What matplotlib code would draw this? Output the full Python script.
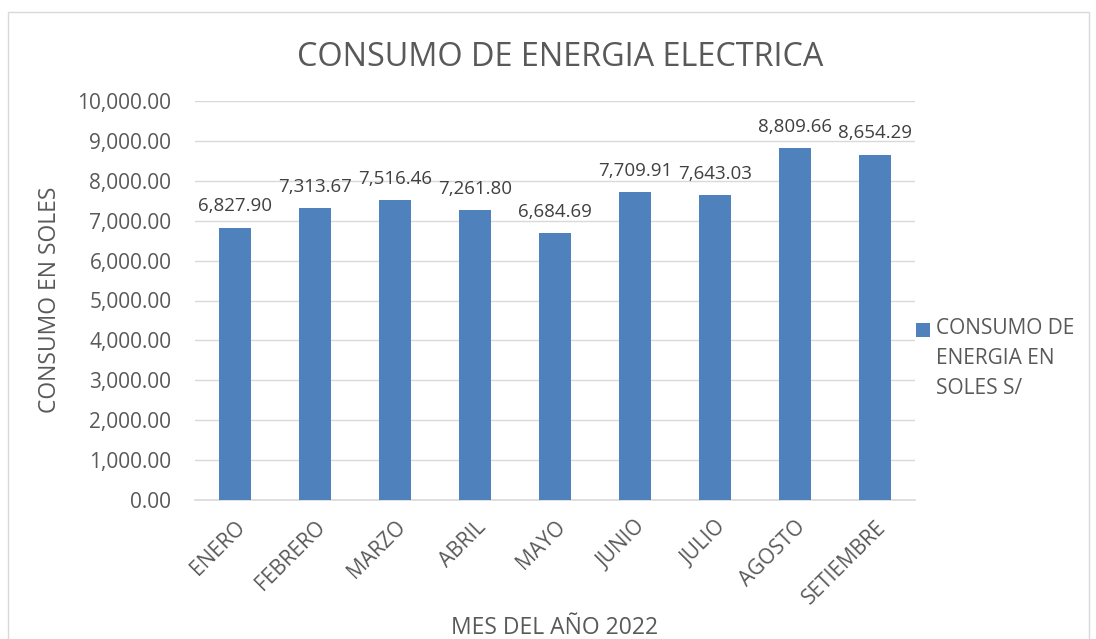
import matplotlib
matplotlib.use("Agg")
import matplotlib.pyplot as plt
from matplotlib.patches import Rectangle
from matplotlib.ticker import FuncFormatter, MultipleLocator

months = ["ENERO", "FEBRERO", "MARZO", "ABRIL", "MAYO", "JUNIO", "JULIO", "AGOSTO", "SETIEMBRE"]
values = [6827.90, 7313.67, 7516.46, 7261.80, 6684.69, 7709.91, 7643.03, 8809.66, 8654.29]
series_name = "CONSUMO DE\nENERGIA EN\nSOLES S/"
title = "CONSUMO DE ENERGIA ELECTRICA"
xlabel = "MES DEL AÑO 2022"
ylabel = "CONSUMO EN SOLES"

plt.rcParams['font.family'] = ['Open Sans', 'DejaVu Sans']
TXT = '#595959'
BAR = '#4F81BD'
GRID = '#D9D9D9'

fig = plt.figure(figsize=(10.96, 6.39), dpi=100)
fig.patches.append(Rectangle((8/1096, -0.1), (1089-8)/1096, 1.1 - 12/639, transform=fig.transFigure,
                             fill=False, edgecolor='#D9D9D9', linewidth=1))

ax = fig.add_axes([195/1096, 1 - 500/639, 720/1096, 399/639])
x = list(range(len(months)))
bars = ax.bar(x, values, width=0.4, color=BAR, zorder=3, label=series_name)
ax.set_xlim(-0.5, len(months) - 0.5)
ax.set_ylim(0, 10000)
ax.yaxis.set_major_locator(MultipleLocator(1000))
ax.yaxis.set_major_formatter(FuncFormatter(lambda v, p: f"{v:,.2f}"))
ax.grid(axis='y', color=GRID, linewidth=1, zorder=0)
for s in ['top', 'right', 'left']:
    ax.spines[s].set_visible(False)
ax.spines['bottom'].set_color(GRID)
ax.spines['bottom'].set_linewidth(1.2)
ax.tick_params(axis='both', length=0, colors=TXT, labelsize=15)
ax.tick_params(axis='y', pad=17)
ax.set_xticks(x)
ax.set_xticklabels(months, rotation=45, ha='right', rotation_mode='anchor')
ax.tick_params(axis='x', pad=12)

for xi, v in zip(x, values):
    ax.annotate(f"{v:,.2f}", (xi, v), xytext=(0, 9), textcoords='offset points',
                ha='center', va='bottom', fontsize=13.5, color='#404040')

fig.text(560/1096, 1 - 57/639, title, ha='center', va='center', fontsize=23.3, color=TXT)
fig.text(555/1096, 1 - 628/639, xlabel, ha='center', va='center', fontsize=16.5, color=TXT)
fig.text(50/1096, 1 - 300/639, ylabel, ha='center', va='center', rotation=90, fontsize=16.5, color=TXT)

# legend (manual so the marker aligns with the first line)
fig.patches.append(Rectangle((916/1096, 1 - 337/639), 14/1096, 14/639, transform=fig.transFigure,
                             facecolor=BAR, edgecolor='none'))
fig.text(936/1096, 1 - 318/639, series_name, ha='left', va='top', fontsize=15, color=TXT,
         linespacing=1.55)

fig.savefig("out.png", dpi=100)
